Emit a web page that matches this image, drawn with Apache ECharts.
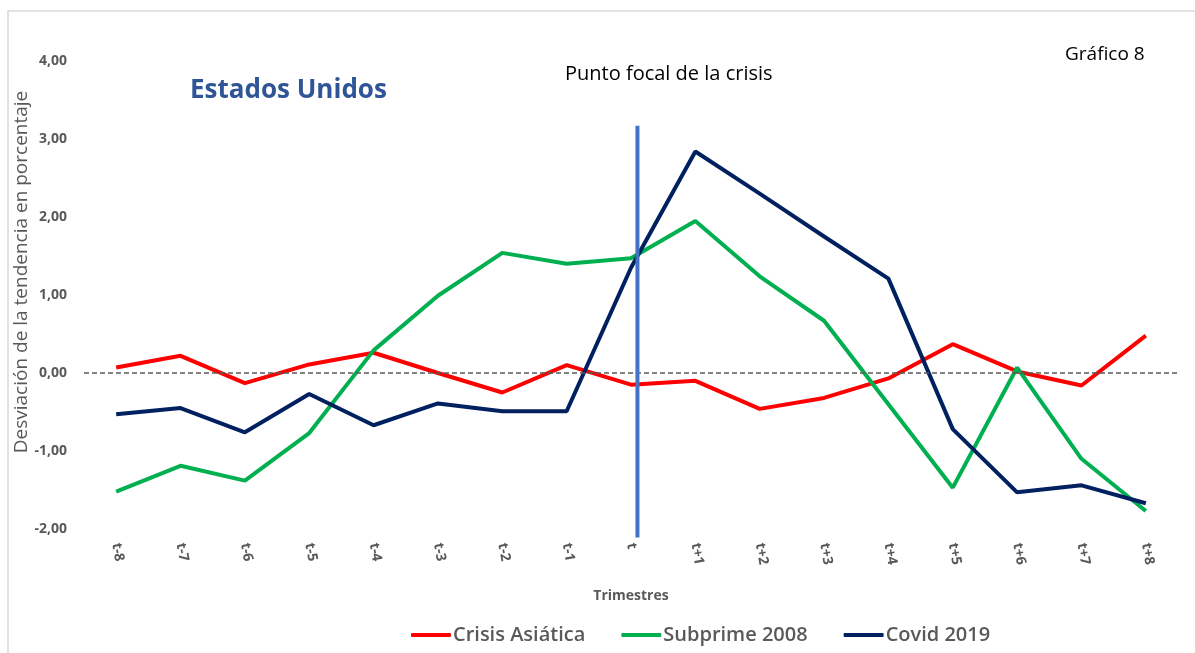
<!DOCTYPE html>
<html>
<head>
<meta charset="utf-8">
<script src="https://cdn.jsdelivr.net/npm/echarts@6/dist/echarts.min.js"></script>
<style>
  html, body { margin: 0; padding: 0; background: #fff; }
  #chart { width: 1195px; height: 653px; }
</style>
</head>
<body>
<div id="chart"></div>
<script>
const quarters = ['t-8', 't-7', 't-6', 't-5', 't-4', 't-3', 't-2', 't-1', 't',
  't+1', 't+2', 't+3', 't+4', 't+5', 't+6', 't+7', 't+8']

const crisisAsiatica = [0.07, 0.22, -0.13, 0.11, 0.26, 0.00, -0.25, 0.10, -0.15,
  -0.10, -0.46, -0.32, -0.07, 0.37, 0.02, -0.16, 0.48]
const subprime2008 = [-1.52, -1.19, -1.38, -0.77, 0.29, 0.99, 1.54, 1.40, 1.47,
  1.95, 1.24, 0.67, -0.40, -1.47, 0.07, -1.10, -1.77]
const covid2019 = [-0.53, -0.45, -0.76, -0.27, -0.67, -0.39, -0.49, -0.49, 1.35,
  2.84, 2.30, 1.75, 1.21, -0.72, -1.53, -1.44, -1.67]

// focal point marker: slightly right of the 't' category, from ~3,17 down to ~-2,11
const focalLine = [[8.1, 3.17], [8.1, -2.11]]

const font = '"Open Sans", "Noto Sans", sans-serif'
const grey = '#595959'

const chart = echarts.init(document.getElementById('chart'))

const makeLine = (name, data, color) => ({
  name,
  type: 'line',
  data,
  symbol: 'none',
  lineStyle: { color, width: 4 },
  itemStyle: { color }
})

const option = {
  animation: false,
  backgroundColor: '#fff',
  textStyle: { fontFamily: font },
  graphic: [
    {
      type: 'rect',
      shape: { x: 8, y: 11, width: 1250, height: 700 },
      style: { fill: 'none', stroke: '#D9D9D9', lineWidth: 1.5 },
      z: -1
    },
    {
      type: 'text', left: 190, top: 78,
      style: { text: 'Estados Unidos', fill: '#2F5597', font: 'bold 26px ' + font }
    },
    {
      type: 'text', left: 565, top: 64,
      style: { text: 'Punto focal de la crisis', fill: '#000', font: '20px ' + font }
    },
    {
      type: 'text', left: 1065, top: 45,
      style: { text: 'Gráfico 8', fill: '#000', font: '19px ' + font }
    },
    {
      type: 'text',
      x: 22, y: 272,
      rotation: Math.PI / 2,
      style: {
        text: 'Desviación de la tendencia en porcentaje',
        fill: grey, font: '19px ' + font,
        align: 'center', verticalAlign: 'middle'
      }
    }
  ],
  legend: {
    bottom: 3,
    left: 406,
    itemWidth: 40,
    itemHeight: 4,
    itemGap: 36,
    icon: 'roundRect',
    textStyle: { color: grey, fontSize: 20, fontWeight: 600, fontFamily: font, padding: [0, 0, 0, -3] },
    data: ['Crisis Asiática', 'Subprime 2008', 'Covid 2019']
  },
  grid: { left: 84, right: 17, top: 61, height: 468 },
  xAxis: [
    {
      type: 'category',
      data: quarters,
      boundaryGap: true,
      name: 'Trimestres',
      nameLocation: 'middle',
      nameGap: 60,
      nameTextStyle: { color: grey, fontSize: 14, fontWeight: 'bold' },
      axisLine: { show: false },
      axisTick: { show: false },
      axisLabel: { color: grey, fontSize: 14, fontWeight: 'bold', rotate: -80, margin: 14 }
    },
    { type: 'value', min: -0.5, max: 16.5, show: false }
  ],
  yAxis: [
    {
      type: 'value',
      min: -2,
      max: 4,
      interval: 1,
      axisLine: { show: false },
      axisTick: { show: false },
      splitLine: { show: false },
      axisLabel: {
        color: grey, fontSize: 14, fontWeight: 'bold', margin: 17,
        formatter: v => v.toFixed(2).replace('.', ',')
      }
    },
    { type: 'value', min: -2, max: 4, show: false }
  ],
  series: [
    Object.assign(makeLine('Crisis Asiática', crisisAsiatica, '#FF0000'), {
      markLine: {
        silent: true,
        symbol: 'none',
        label: { show: false },
        lineStyle: { color: '#595959', type: [5, 3], width: 1.5 },
        data: [{ yAxis: 0 }]
      }
    }),
    makeLine('Subprime 2008', subprime2008, '#00B050'),
    makeLine('Covid 2019', covid2019, '#002060'),
    {
      name: 'Punto focal',
      type: 'line',
      xAxisIndex: 1,
      yAxisIndex: 1,
      data: focalLine,
      clip: false,
      silent: true,
      symbol: 'none',
      lineStyle: { color: '#4472C4', width: 4 },
      z: 5
    }
  ]
}

chart.setOption(option)
</script>
</body>
</html>
